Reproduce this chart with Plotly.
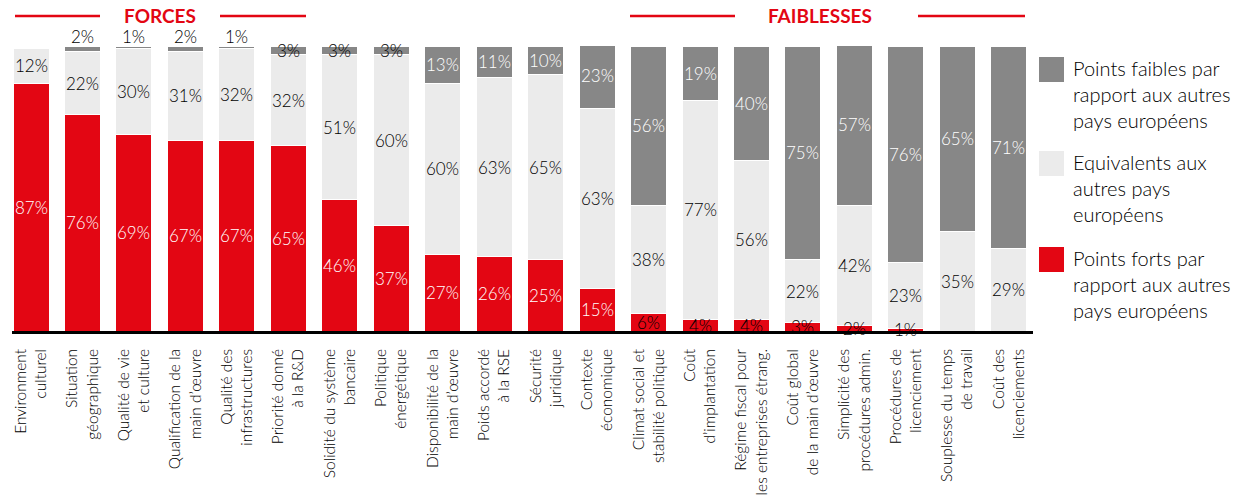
import plotly.graph_objects as go

categories = [
    "Environment<br>culturel", "Situation<br>géographique", "Qualité de vie<br>et culture",
    "Qualification de la<br>main d’œuvre", "Qualité des<br>infrastructures", "Priorité donné<br>à la R&D",
    "Solidité du système<br>bancaire", "Politique<br>énergétique", "Disponibilité de la<br>main d’œuvre",
    "Poids accordé<br>à la RSE", "Sécurité<br>juridique", "Contexte<br>économique",
    "Climat social et<br>stabilité politique", "Coût<br>d’implantation",
    "Régime fiscal pour<br>les entreprises étrang.", "Coût global<br>de la main d’œuvre",
    "Simplicité des<br>procédures admin.", "Procédures de<br>licenciement",
    "Souplesse du temps<br>de travail", "Coût des<br>licenciements",
]
forts = [87, 76, 69, 67, 67, 65, 46, 37, 27, 26, 25, 15, 6, 4, 4, 3, 2, 1, 0, 0]
equivalents = [12, 22, 30, 31, 32, 32, 51, 60, 60, 63, 65, 63, 38, 77, 56, 22, 42, 23, 35, 29]
faibles = [0, 2, 1, 2, 1, 3, 3, 3, 13, 11, 10, 23, 56, 19, 40, 75, 57, 76, 65, 71]

series_names = [
    "Points forts par<br>rapport aux autres<br>pays européens",
    "Equivalents aux<br>autres pays<br>européens",
    "Points faibles par<br>rapport aux autres<br>pays européens",
]
RED = "#E30613"
LIGHT = "#EBEBEB"
DARK = "#878787"
INK = "#000000"
FONT = "Lato"
WGT = 300

W_FIG, H_FIG = 1260, 501
# plot area in page pixels
L, R, T, B = 12, 1033, 46, 331


def px_x(p):
    return (p - L) / (R - L)


def px_y(p):
    return (B - p) / (B - T)


xs = list(range(len(categories)))
fig = go.Figure()
for vals, name, col in [(forts, series_names[0], RED), (equivalents, series_names[1], LIGHT),
                        (faibles, series_names[2], DARK)]:
    fig.add_trace(go.Bar(x=xs, y=vals, name=name, marker=dict(color=col, line=dict(color="white", width=1)),
                         showlegend=False, hoverinfo="skip"))

FS = 17


def lab_font(color):
    return dict(color=color, size=FS, family=FONT, weight=WGT)


annotations = []
for i in xs:
    f, e, w = forts[i], equivalents[i], faibles[i]
    if f > 0:
        annotations.append(dict(x=i, y=f / 2, text=f"{f}%", showarrow=False,
                                font=lab_font("white" if f >= 10 else INK)))
    if e > 0:
        annotations.append(dict(x=i, y=f + e / 2, text=f"{e}%", showarrow=False, font=lab_font(INK)))
    if w > 0:
        if w <= 2:
            annotations.append(dict(x=i, y=f + e + w, yanchor="bottom", yshift=-3, text=f"{w}%",
                                    showarrow=False, font=lab_font(INK)))
        elif w < 10:
            annotations.append(dict(x=i, y=f + e + w / 2, text=f"{w}%", showarrow=False,
                                    font=lab_font(INK)))
        else:
            annotations.append(dict(x=i, y=f + e + w / 2, text=f"{w}%", showarrow=False,
                                    font=lab_font("white")))

# headers
shapes = []
hdr_y = px_y(16)
for (x0, x1) in [(15, 100), (220, 306), (630, 735), (918, 1025)]:
    shapes.append(dict(type="line", xref="paper", yref="paper", x0=px_x(x0), x1=px_x(x1),
                       y0=hdr_y, y1=hdr_y, line=dict(color=RED, width=2.5)))
for cx, txt in [(160, "FORCES"), (820, "FAIBLESSES")]:
    annotations.append(dict(xref="paper", yref="paper", x=px_x(cx), y=hdr_y, xanchor="center",
                            yanchor="middle", text=f"<b>{txt}</b>", showarrow=False,
                            font=dict(color=RED, size=19, family=FONT)))

# manual legend
legend_items = [(series_names[2], DARK, 57), (series_names[1], LIGHT, 151), (series_names[0], RED, 247)]
for name, col, top in legend_items:
    shapes.append(dict(type="rect", xref="paper", yref="paper", x0=px_x(1039), x1=px_x(1064),
                       y0=px_y(top + 25), y1=px_y(top), fillcolor=col, line=dict(width=0)))
    annotations.append(dict(xref="paper", yref="paper", x=px_x(1071), y=px_y(top - 3), xanchor="left",
                            yanchor="top", align="left", text=name, showarrow=False,
                            font=dict(color=INK, size=20, family=FONT, weight=WGT)))

fig.update_layout(
    barmode="stack", bargap=0.3,
    width=W_FIG, height=H_FIG,
    margin=dict(l=L, r=W_FIG - R, t=T, b=H_FIG - B),
    plot_bgcolor="white", paper_bgcolor="white",
    font=dict(family=FONT, color=INK),
    annotations=annotations, shapes=shapes,
    xaxis=dict(tickmode="array", tickvals=xs, ticktext=categories, tickangle=-90,
               range=[-0.37, 19.47], showline=True, linecolor="black", linewidth=2.5,
               ticks="", tickfont=dict(size=15.5, family=FONT, color=INK, weight=WGT), showgrid=False,
               ticklabelstandoff=9, automargin=False),
    yaxis=dict(range=[0, 100], visible=False, showgrid=False),
)
fig.write_html("out.html", config={"displayModeBar": False},
               post_script="document.body.style.margin='0';")
